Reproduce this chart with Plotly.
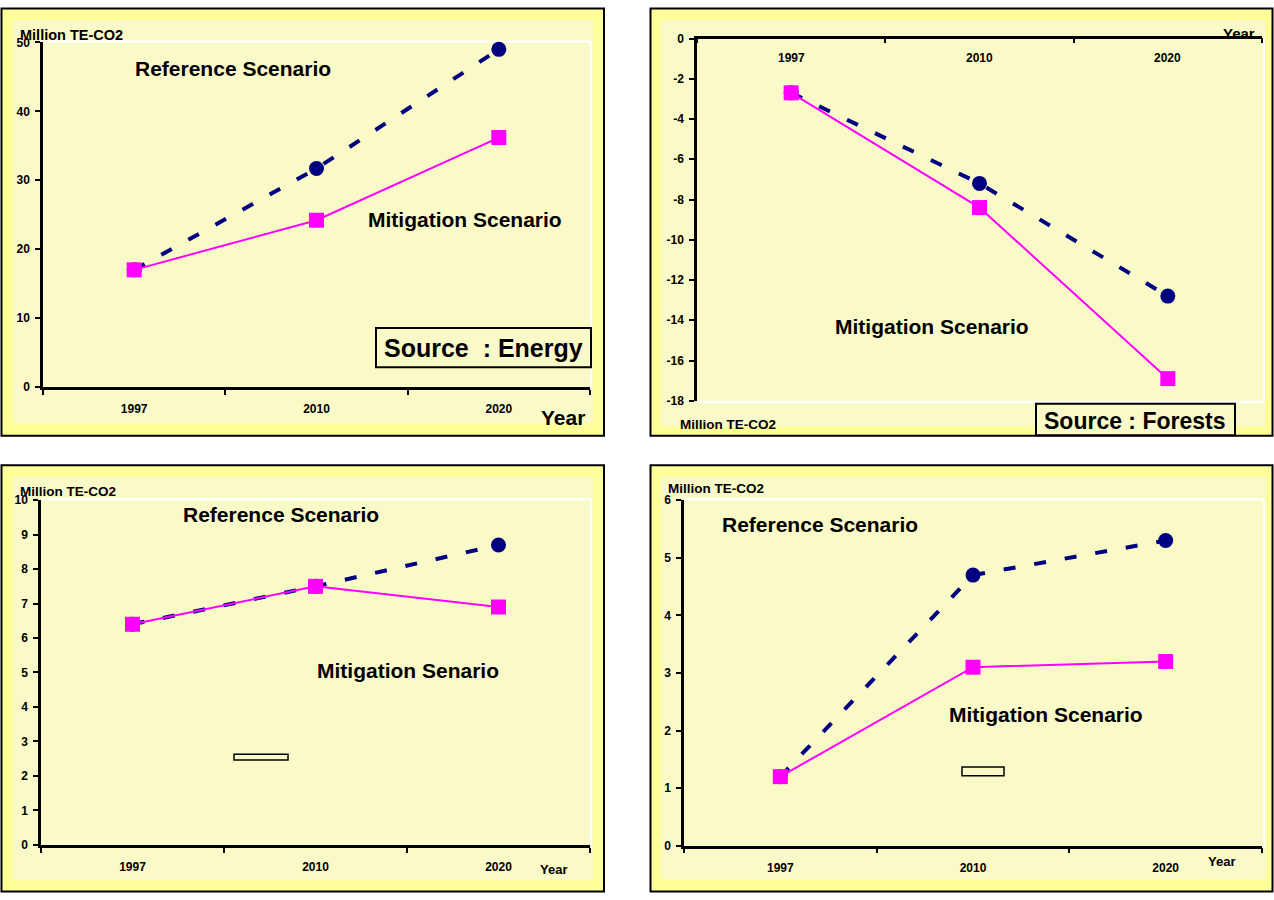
import plotly.graph_objects as go

W, H = 1274, 900

# ---------------- data ----------------
years = ["1997", "2010", "2020"]
year_pos = [0, 1, 2]

energy_ref = [17.0, 31.7, 49.0]
energy_mit = [17.0, 24.2, 36.2]

forest_ref = [-2.7, -7.2, -12.8]
forest_mit = [-2.7, -8.4, -16.9]

p3_ref = [6.4, 7.5, 8.7]
p3_mit = [6.4, 7.5, 6.9]

p4_ref = [1.2, 4.7, 5.3]
p4_mit = [1.2, 3.1, 3.2]

energy_ticks = [0, 10, 20, 30, 40, 50]
forest_ticks = [0, -2, -4, -6, -8, -10, -12, -14, -16, -18]
forest_ticktext = ["0", "-2", "-4", "-6", "-8", "-10", "-12", "-14", "-16", "-18"]
p3_ticks = [0, 1, 2, 3, 4, 5, 6, 7, 8, 9, 10]
p4_ticks = [0, 1, 2, 3, 4, 5, 6]
boundaries = [-0.5, 0.5, 1.5, 2.5]

# ---------------- styling ----------------
FONT = "Liberation Sans, Arial, sans-serif"
NAVY = "#000080"
MAGENTA = "#FF00FF"
FRAME = "#FFFF99"
INNER = "#FAFAC8"


def px(x):
    return x / W


def py(y):
    return 1 - y / H


fig = go.Figure()

# plot-area geometry in pixels: (x0, x1, ytop, ybottom)
plots = {
    1: (43, 590, 36, 386),
    2: (697, 1262, 32, 400),
    3: (41, 590, 501, 851),
    4: (684, 1262, 501, 852),
}

series = {
    1: (energy_ref, energy_mit),
    2: (forest_ref, forest_mit),
    3: (p3_ref, p3_mit),
    4: (p4_ref, p4_mit),
}

for i, (ref, mit) in series.items():
    xa = "x" if i == 1 else f"x{i}"
    ya = "y" if i == 1 else f"y{i}"
    fig.add_trace(go.Scatter(
        x=year_pos, y=ref, mode="lines+markers", xaxis=xa, yaxis=ya,
        line=dict(color=NAVY, width=4, dash="12px,19px"),
        marker=dict(symbol="circle", size=15, color=NAVY),
        cliponaxis=False, showlegend=False, hoverinfo="skip"))
    fig.add_trace(go.Scatter(
        x=year_pos, y=mit, mode="lines+markers", xaxis=xa, yaxis=ya,
        line=dict(color=MAGENTA, width=2),
        marker=dict(symbol="square", size=15, color=MAGENTA),
        cliponaxis=False, showlegend=False, hoverinfo="skip"))

tickfont = dict(family=FONT, size=12, color="black", weight="bold")

yranges = {1: [0, 50], 2: [-18, 0], 3: [0, 10], 4: [0, 6]}
ytickvals = {1: energy_ticks, 2: forest_ticks, 3: p3_ticks, 4: p4_ticks}
yticktext = {1: [str(v) for v in energy_ticks], 2: forest_ticktext,
             3: [str(v) for v in p3_ticks], 4: [str(v) for v in p4_ticks]}

layout = {}
for i, (x0, x1, yt, yb) in plots.items():
    xk = "xaxis" if i == 1 else f"xaxis{i}"
    yk = "yaxis" if i == 1 else f"yaxis{i}"
    ya = "y" if i == 1 else f"y{i}"
    xa = "x" if i == 1 else f"x{i}"
    top = (i == 2)
    layout[xk] = dict(
        domain=[px(x0), px(x1)], anchor=ya, range=[-0.5, 2.5],
        side="top" if top else "bottom",
        tickmode="array", tickvals=year_pos, ticktext=years, ticks="",
        showticklabels=not top,
        ticklabelstandoff=9,
        tickfont=tickfont, showline=True, linecolor="black", linewidth=2.5,
        showgrid=False, zeroline=False, fixedrange=True,
        minor=dict(tickmode="array", tickvals=boundaries,
                   ticks="inside" if top else "outside",
                   ticklen=5, tickwidth=2, tickcolor="black", showgrid=False),
    )
    layout[yk] = dict(
        domain=[py(yb), py(yt)], anchor=xa, range=yranges[i],
        tickmode="array", tickvals=ytickvals[i], ticktext=yticktext[i],
        ticks="outside", ticklen=5, tickwidth=2, tickcolor="black",
        ticklabelstandoff=3,
        tickfont=tickfont, showline=True, linecolor="black", linewidth=2.5,
        showgrid=False, zeroline=False, fixedrange=True,
    )

shapes = []


def rect(x0, y0, x1, y1, fill, line_color=None, lw=0, layer="below"):
    shapes.append(dict(
        type="rect", xref="paper", yref="paper",
        x0=px(x0), x1=px(x1), y0=py(y1), y1=py(y0),
        fillcolor=fill,
        line=dict(color=line_color if line_color else "rgba(0,0,0,0)", width=lw),
        layer=layer))


def hline(x0, x1, y, color="white", lw=2):
    shapes.append(dict(type="line", xref="paper", yref="paper",
                       x0=px(x0), x1=px(x1), y0=py(y), y1=py(y),
                       line=dict(color=color, width=lw), layer="below"))


def vline(x, y0, y1, color="white", lw=2):
    shapes.append(dict(type="line", xref="paper", yref="paper",
                       x0=px(x), x1=px(x), y0=py(y0), y1=py(y1),
                       line=dict(color=color, width=lw), layer="below"))


# panel frames
rect(1.5, 1.5, 604, 435.5, FRAME, "black", 2)
rect(13, 13, 593, 423, INNER)
rect(650.5, 1.5, 1272.5, 435.5, FRAME, "black", 2)
rect(661, 13, 1265, 426, INNER)
rect(1.5, 465.5, 604, 898.5, FRAME, "black", 2)
rect(13, 477, 593, 887, INNER)
rect(650.5, 465.5, 1272.5, 898.5, FRAME, "black", 2)
rect(661, 477, 1266, 886, INNER)

# white plot-area edges
hline(43, 591, 35)
vline(591, 35, 386)
hline(697, 1264, 401)
vline(1264, 32, 401)
hline(41, 591, 500)
vline(591, 500, 851)
hline(684, 1264, 500)
vline(1264, 500, 852)

# boxes
rect(376, 326, 591, 366, INNER, "black", 2, layer="above")
rect(1036, 403, 1235, 435, INNER, "black", 2, layer="above")
rect(234, 759, 288, 765, INNER, "black", 1.5, layer="above")
rect(962, 772, 1004, 781, INNER, "black", 1.5, layer="above")

annotations = []


def label(text, x, y, size, anchor="left"):
    annotations.append(dict(
        text=text, xref="paper", yref="paper", x=px(x), y=py(y),
        xanchor=anchor, yanchor="middle", showarrow=False,
        font=dict(family=FONT, size=size, color="black", weight="bold")))


# forests panel: year labels sit just under the top axis line,
# placed through the panel's own x scale
for pos, yr in zip(year_pos, years):
    annotations.append(dict(
        text=yr, xref="x2", yref="paper", x=pos, y=py(52),
        xanchor="center", yanchor="middle", showarrow=False,
        font=tickfont))

# panel 1
label("Million TE-CO2", 18, 28, 14.5)
label("Reference Scenario", 133, 62, 21)
label("Mitigation Scenario", 366, 216, 21)
label("Source  : Energy", 483.5, 346, 25, "center")
label("Year", 539, 417, 21)
# panel 2
label("Mitigation Scenario", 833, 325, 21)
label("Source : Forests", 1135, 421, 23, "center")
label("Million TE-CO2", 678, 424, 13.5)
label("Year", 1221, 27, 15)
# panel 3
label("Million TE-CO2", 18, 492, 13.5)
label("Reference Scenario", 181, 516, 21)
label("Mitigation Senario", 315, 674, 21)
label("Year", 538, 876, 13)
# panel 4
label("Million TE-CO2", 666, 489, 13.5)
label("Reference Scenario", 720, 526, 21)
label("Mitigation Scenario", 947, 719, 21)
label("Year", 1206, 868, 13)

fig.update_layout(
    width=W, height=H, autosize=False,
    margin=dict(l=0, r=0, t=0, b=0, pad=0),
    paper_bgcolor="white", plot_bgcolor="rgba(0,0,0,0)",
    shapes=shapes, annotations=annotations, showlegend=False,
    **layout,
)

fig.write_html(
    "out.html",
    config={"displayModeBar": False},
    post_script=(
        "var gd=document.getElementById('{plot_id}');"
        "gd.style.position='absolute';gd.style.left='0px';gd.style.top='0px';"
        "document.body.style.margin='0';document.body.style.overflow='hidden';"
        "document.documentElement.style.overflow='hidden';"
    ),
)
